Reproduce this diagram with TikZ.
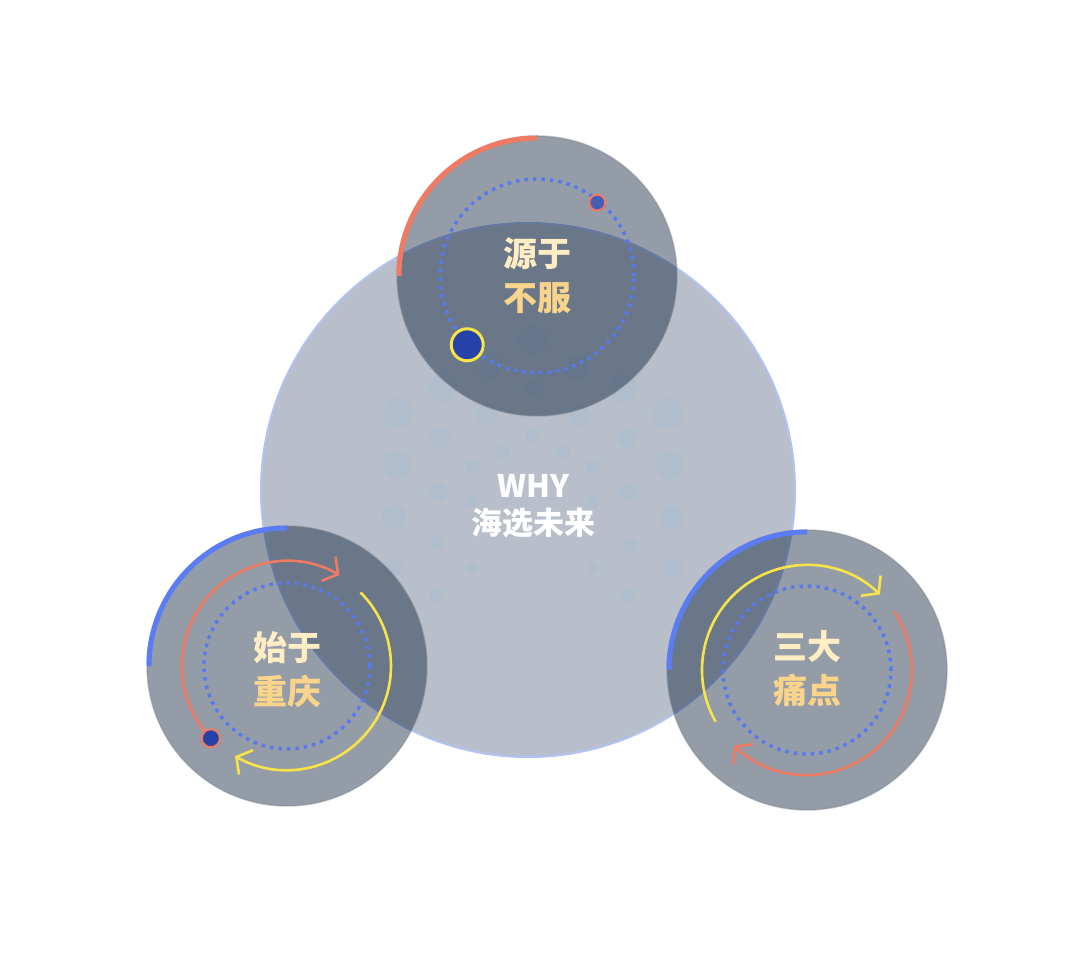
\documentclass[tikz,border=0pt]{standalone}
\usepackage{fontspec}
\newfontfamily\cjk{Noto Sans CJK SC}
\usetikzlibrary{arrows.meta}
\definecolor{bigfill}{HTML}{B8BFCB}
\definecolor{bigedge}{HTML}{B2C2F2}
\definecolor{dotc}{HTML}{A9BCCE}
\definecolor{shade}{HTML}{001530}
\definecolor{rimc}{HTML}{7E8590}
\definecolor{coral}{HTML}{F07A62}
\definecolor{bluearc}{HTML}{5A7CF4}
\definecolor{dotblue}{HTML}{5A78EE}
\definecolor{yel}{HTML}{F8E448}
\definecolor{navy}{HTML}{2442A8}
\definecolor{txtA}{HTML}{FFEDC4}
\definecolor{txtB}{HTML}{F9D48A}
\tikzset{
  bgdot/.style={fill=dotc, fill opacity=0.55},
  shadecircle/.style={fill=shade, fill opacity=0.42, draw=rimc, draw opacity=0.45, line width=1.5pt},
  outerarc/.style={line width=5pt},
  dottedring/.style={draw=dotblue, line width=3.5pt, dash pattern=on 3.5pt off 5pt},
  cyclearc/.style={line width=2.6pt, -{Straight Barb[length=11pt,width=28pt,line width=2.6pt]}},
  label/.style={font=\cjk\bfseries\fontsize{34}{44}\selectfont, align=center, inner sep=0pt},
  maintext/.style={font=\cjk\bfseries\fontsize{31}{37}\selectfont, text=white, align=center, inner sep=0pt}
}
\begin{document}
\begin{tikzpicture}[x=1pt,y=1pt]
\useasboundingbox (0,0) rectangle (1080,960);
\fill[white] (0,0) rectangle (1080,960);
\coordinate (big) at (528,470);
\coordinate (top) at (537,684);
\coordinate (left) at (287,294);
\coordinate (right) at (807,290);

% big circle
\draw[fill=bigfill, draw=bigedge, line width=2pt] (big) circle[radius=267];

% background dot pattern
\foreach \x/\y/\r in {398/547/15,397/495/14,394/443/12,393/393/9,
  443/572/14,440/522/11,438/468/9,437/417/7,437/365/7,
  487/545/11,473/493/7,472/458/6,472/392/5,
  533/525/7,503/508/7,563/508/7,
  580/545/11,593/493/7,593/458/6,593/392/5,
  627/522/10,628/468/9,630/415/7,628/365/7,
  668/547/15,670/495/14,672/443/12,673/392/10,
  623/572/14,533/620/15,533/572/10,490/593/13,577/593/13}
  \fill[bgdot] (\x,\y) circle[radius=\r];

% shaded circles
\draw[shadecircle] (top) circle[radius=140];
\draw[shadecircle] (left) circle[radius=140];
\draw[shadecircle] (right) circle[radius=140];

% main text
\node[maintext] (why) at (533,474) {WHY};
\node[maintext] (hx) at (533,437) {海选未来};

% ---- top circle
\draw[outerarc, coral] (top) ++(90:138) arc[start angle=90, end angle=180, radius=138];
\draw[dottedring] (top) circle[radius=97];
\fill[navy!85!white, draw=coral, line width=2pt] (top) ++(50.6:95) circle[radius=8];
\fill[navy, draw=yel, line width=3pt] (top) ++(224.6:98) circle[radius=16];
\node[label] (tl) at (537,684) {{\color{txtA}源于}\\[0pt]{\color{txtB}不服}};

% ---- left circle
\draw[outerarc, bluearc] (left) ++(90:138) arc[start angle=90, end angle=180, radius=138];
\draw[dottedring] (left) circle[radius=83];
\draw[cyclearc, coral] (left) ++(223.5:105) arc[start angle=223.5, end angle=60, radius=105];
\draw[cyclearc, yel] (left) ++(45:104) arc[start angle=45, end angle=-120, radius=104];
\fill[navy, draw=coral, line width=2pt] (left) ++(223.5:105) circle[radius=9];
\node[label] (ll) at (287,290) {{\color{txtA}始于}\\[0pt]{\color{txtB}重庆}};

% ---- right circle
\draw[outerarc, bluearc] (right) ++(90:138) arc[start angle=90, end angle=180, radius=138];
\draw[dottedring] (right) circle[radius=84];
\draw[cyclearc, yel] (right) ++(209.5:105) arc[start angle=209.5, end angle=46, radius=105];
\draw[cyclearc, coral] (right) ++(34:105) arc[start angle=34, end angle=-134, radius=105];
\node[label] (rl) at (807,291) {{\color{txtA}三大}\\[0pt]{\color{txtB}痛点}};
\end{tikzpicture}
\end{document}
